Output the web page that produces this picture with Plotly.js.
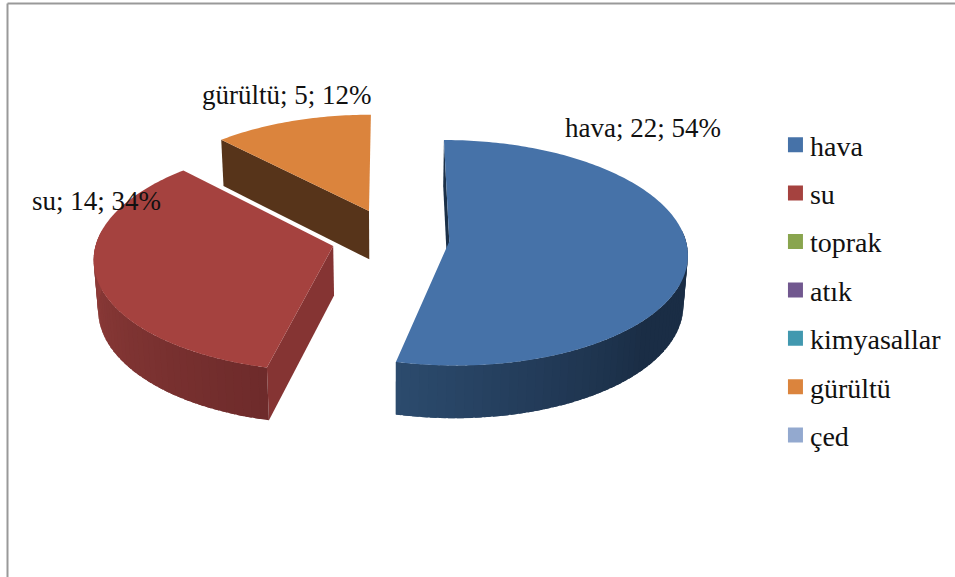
<!DOCTYPE html>
<html>
<head>
<meta charset="utf-8">
<script src="https://cdn.plot.ly/plotly-3.0.1.min.js"></script>
<style>html,body{margin:0;padding:0;background:#fff}#chart{width:955px;height:577px}</style>
</head>
<body>
<div id="chart"></div>
<script>
// Pollution complaint counts by category
const categories = ['hava', 'su', 'toprak', 'atık', 'kimyasallar', 'gürültü', 'çed'];
const counts = [22, 14, 0, 0, 0, 5, 0];
const colors = ['#4672A8', '#A5423F', '#89A54E', '#71588F', '#4198AF', '#DB843D', '#93A9CF'];
// Side-wall shading and the radial cut face colour of each drawn slice
const wallShades = {hava: ['#2C4B6E', '#1A2D45'], su: ['#913D3A', '#6E2B2B']};
const wallBends = {hava: [193, 130], su: [275, 193]};
const cutShades = {hava: '#1B3048', su: '#853433', 'gürültü': '#57341A'};
const drawOrder = ['gürültü', 'su', 'hava'];

// Projection of the tilted, exploded pie
const scene = {cx: 390.5, cy: 238, radius: 236, explode: 59, explodeBack: 1.08, tilt: 0.47, depth: 50, persp: 0.1, perspDepth: 0.015};
const labelSpots = {hava: [643, 128], su: [96, 201], 'gürültü': [287, 95]};

const total = counts.reduce((a, b) => a + b, 0);
const rad = d => d * Math.PI / 180;

function project(X, Z, h) {
  const s = 1 / (1 - scene.persp * Z / scene.radius + scene.perspDepth * h);
  return [scene.cx + X * s, scene.cy + (scene.tilt * Z + scene.depth * h) * s];
}
function rimPoint(mid, a, h, r) {
  const X = scene.explode * Math.sin(rad(mid)) + r * Math.sin(rad(a));
  const Z = -(scene.explode * scene.explodeBack * Math.cos(rad(mid)) + r * Math.cos(rad(a)));
  return project(X, Z, h);
}
const hex = c => [1, 3, 5].map(i => parseInt(c.substr(i, 2), 16));
function mix(c1, c2, t) {
  const a = hex(c1), b = hex(c2);
  const k = Math.min(1, Math.max(0, t));
  return 'rgb(' + a.map((v, i) => Math.round(v + (b[i] - v) * k)).join(',') + ')';
}
function polygon(pts, color) {
  return {
    type: 'scatter', mode: 'none', x: pts.concat([pts[0]]).map(p => p[0]), y: pts.concat([pts[0]]).map(p => p[1]),
    fill: 'toself', fillcolor: color, hoverinfo: 'skip', showlegend: false
  };
}

// Slice sweep angles, clockwise from twelve o'clock
const sweeps = {};
let running = 0;
categories.forEach((name, i) => {
  const span = counts[i] / total * 360;
  sweeps[name] = [running, running + span];
  running += span;
});

const traces = [];
drawOrder.forEach(name => {
  const i = categories.indexOf(name);
  const [a0, a1] = sweeps[name];
  const mid = (a0 + a1) / 2;
  const R = scene.radius;

  // Leading radial cut face; the trailing one faces away from the viewer
  traces.push(polygon([rimPoint(mid, a0, 0, 0), rimPoint(mid, a0, 0, R), rimPoint(mid, a0, 1, R), rimPoint(mid, a0, 1, 0)], cutShades[name]));

  // Curved outer wall from overlapping shaded strips, front-facing part only
  const shade = wallShades[name];
  if (shade) {
    const bend = wallBends[name];
    const step = 2;
    const strips = [];
    for (let a = a0; a < a1; a += step) {
      if (Math.cos(rad(a)) > 0.12) continue;
      strips.push(a);
    }
    strips.sort((p, q) => Math.sin(rad(q)) - Math.sin(rad(p)) > 0 ? 1 : -1);
    strips.forEach(a => {
      const b = Math.min(a + step + 1.5, a1);
      const col = mix(shade[0], shade[1], (a - bend[0]) / (bend[1] - bend[0]));
      traces.push(polygon([rimPoint(mid, a, 0, R), rimPoint(mid, b, 0, R), rimPoint(mid, b, 1, R), rimPoint(mid, a, 1, R)], col));
    });
  }

  // Top surface
  const top = [rimPoint(mid, a0, 0, 0)];
  for (let a = a0; a < a1; a += 1) top.push(rimPoint(mid, a, 0, R));
  top.push(rimPoint(mid, a1, 0, R));
  traces.push(polygon(top, colors[i]));
});

// Legend entries, one per category
categories.forEach((name, i) => {
  traces.push({
    type: 'scatter', mode: 'markers', x: [-100], y: [-100], name: name, legendgroup: name,
    marker: {symbol: 'square', size: 15, color: colors[i]}, hoverinfo: 'skip'
  });
});

const annotations = categories.filter((n, i) => counts[i] > 0).map(name => {
  const v = counts[categories.indexOf(name)];
  return {
    x: labelSpots[name][0], y: labelSpots[name][1], xref: 'x', yref: 'y', showarrow: false,
    text: name + '; ' + v + '; ' + Math.round(v / total * 100) + '%',
    font: {family: '"Liberation Serif", serif', size: 27, color: '#111'}
  };
});

const layout = {
  width: 955, height: 577, margin: {l: 0, r: 0, t: 0, b: 0},
  paper_bgcolor: '#fff', plot_bgcolor: '#fff',
  xaxis: {range: [0, 955], visible: false, fixedrange: true},
  yaxis: {range: [577, 0], visible: false, fixedrange: true},
  shapes: [
    {type: 'line', xref: 'x', yref: 'y', x0: 7.5, x1: 7.5, y0: 3.5, y1: 577, line: {color: '#999', width: 2}},
    {type: 'line', xref: 'x', yref: 'y', x0: 7.5, x1: 955, y0: 3.5, y1: 3.5, line: {color: '#999', width: 2}}
  ],
  annotations: annotations,
  showlegend: true,
  legend: {
    x: 0.812, y: 0.792, xanchor: 'left', yanchor: 'top', bgcolor: 'rgba(0,0,0,0)',
    font: {family: '"Liberation Serif", serif', size: 28, color: '#111'},
    tracegroupgap: 9, itemwidth: 30, itemclick: false, itemdoubleclick: false
  }
};
Plotly.newPlot('chart', traces, layout, {displayModeBar: false, staticPlot: true}).then(gd => {
  // Tighten the space between legend swatches and their names
  gd.querySelectorAll('.legendtext').forEach(t => {
    const shifted = parseFloat(t.getAttribute('x')) - 5.5;
    t.setAttribute('x', shifted);
    t.querySelectorAll('tspan').forEach(s => s.setAttribute('x', shifted));
  });
});
</script>
</body>
</html>
